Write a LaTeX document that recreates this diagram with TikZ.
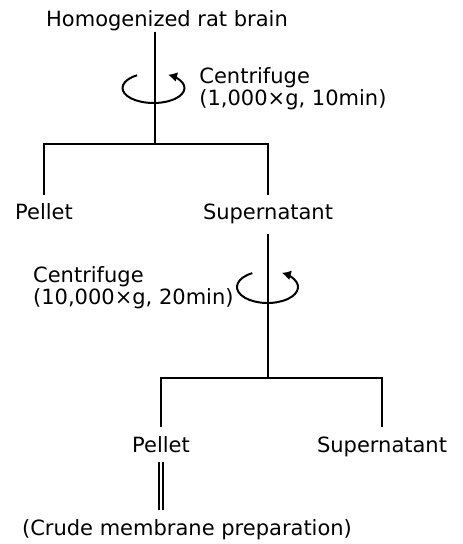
\documentclass[tikz,border=0pt]{standalone}
\usepackage{fontspec}
\setmainfont{DejaVu Sans}
\usetikzlibrary{arrows.meta}

\begin{document}
\begin{tikzpicture}[
        x=0.5bp, y=-0.5bp,
        lbl/.style={inner xsep=0pt, inner ysep=4.5bp, anchor=base, font=\fontsize{10.5bp}{10bp}\selectfont},
        note/.style={inner sep=0pt, align=left, font=\fontsize{10.5bp}{9.6bp}\selectfont},
        line/.style={line width=1bp},
        spin/.style={line width=1bp, -{Latex[length=4.5bp, width=5bp]}}
    ]
        \useasboundingbox (0,0) rectangle (463,544);

        % 1. Brain homogenate and first spin
        \node[lbl, inner ysep=0pt] (brain) at (167,27) {Homogenized rat brain};
        \coordinate (fork1) at (155,144);
        \coordinate (rot1) at (153.5,88);
        \node[note, anchor=west] (cent1) at (199,89) {Centrifuge\\(1,000×g, 10min)};
        \draw[line] (brain.south -| fork1) -- (fork1);
        \path (rot1) ++(238:31 and 15) coordinate (rot1s);
        \draw[spin] (rot1s) arc[start angle=238, end angle=-62, x radius=31, y radius=15];

        % 2. First pellet and supernatant
        \node[lbl] (pellet1) at (44,220) {Pellet};
        \node[lbl] (super1) at (268,220) {Supernatant};
        \draw[line] (pellet1.north) |- (fork1) -| (super1.north);

        % 3. Second spin of the supernatant
        \coordinate (fork2) at (268,378);
        \coordinate (rot2) at (267.5,287);
        \node[note, anchor=east] (cent2) at (234,288) {Centrifuge\\(10,000×g, 20min)};
        \draw[line] (super1.south) -- (fork2);
        \path (rot2) ++(240:30.5 and 16) coordinate (rot2s);
        \draw[spin] (rot2s) arc[start angle=240, end angle=-62, x radius=30.5, y radius=16];

        % 4. Second pellet -> crude membranes
        \node[lbl] (pellet2) at (161,452) {Pellet};
        \node[lbl] (super2) at (382,452) {Supernatant};
        \node[lbl] (crude) at (187,535) {(Crude membrane preparation)};
        \draw[line] (pellet2.north) |- (fork2) -| (super2.north);
        \draw[line, double, double distance=1bp] (pellet2.south) -- (pellet2.south |- crude.north);

    \end{tikzpicture}
\end{document}
